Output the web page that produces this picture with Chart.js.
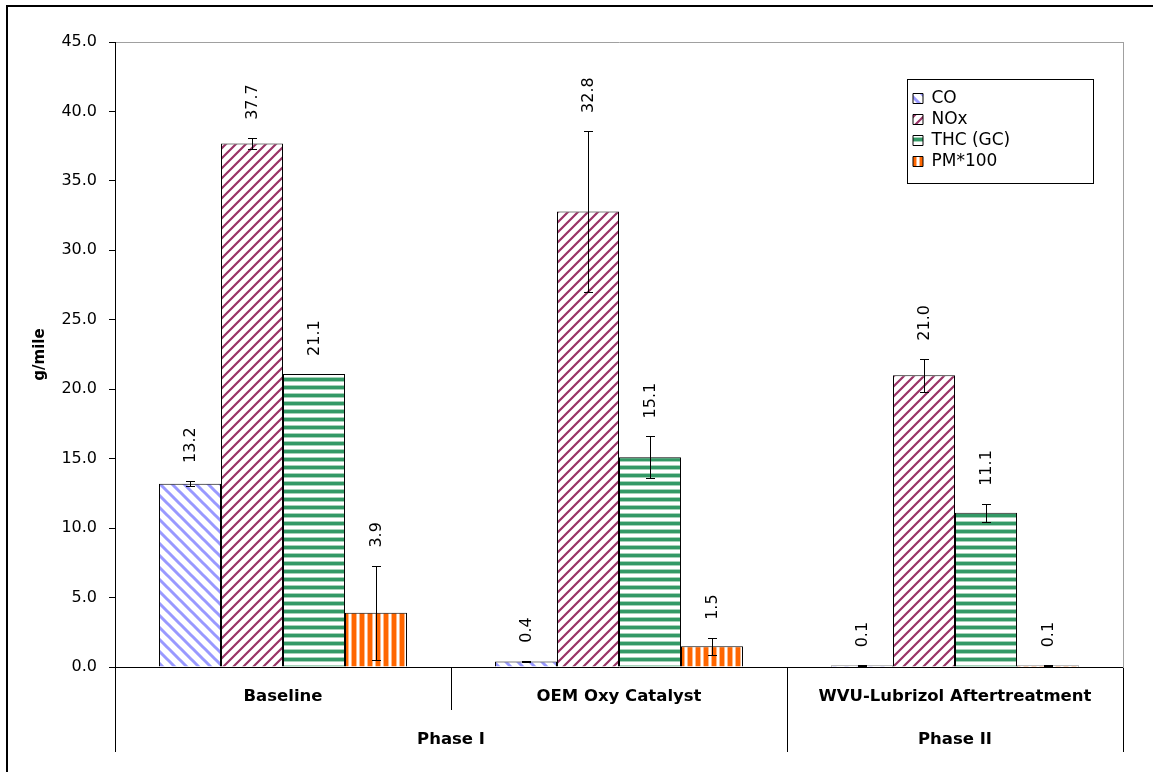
<!DOCTYPE html>
<html>
<head>
<meta charset="utf-8">
<script src="https://cdn.jsdelivr.net/npm/chart.js@4/dist/chart.umd.min.js"></script>
<style>
  html, body { margin: 0; padding: 0; background: #fff; }
  #wrap { position: relative; width: 1153px; height: 772px; overflow: hidden; }
  #frame { position: absolute; left: 6px; top: 5px; right: -10px; bottom: -10px; border-left: 2px solid #000; border-top: 2px solid #000; }
  #c { position: absolute; left: 0; top: 0; }
</style>
</head>
<body>
<div id="wrap">
  <div id="frame"></div>
  <canvas id="c" width="1153" height="772"></canvas>
</div>
<script>
// ---- data ----
const categories = ['Baseline', 'OEM Oxy Catalyst', 'WVU-Lubrizol Aftertreatment'];
const phaseLabels = ['Phase I', 'Phase II'];
const phaseSpans = [2, 1];               // number of categories in each phase
const seriesNames = ['CO', 'NOx', 'THC (GC)', 'PM*100'];
const coValues  = [13.2, 0.4, 0.1];
const noxValues = [37.7, 32.8, 21.0];
const thcValues = [21.1, 15.1, 11.1];
const pmValues  = [3.9, 1.5, 0.1];
const coErrors  = [0.2, 0.05, 0.02];
const noxErrors = [0.4, 5.8, 1.2];
const thcErrors = [0, 1.5, 0.65];
const pmErrors  = [3.4, 0.6, 0.02];
const yMin = 0, yMax = 45, yStep = 5;

const seriesValues = [coValues, noxValues, thcValues, pmValues];
const seriesErrors = [coErrors, noxErrors, thcErrors, pmErrors];

// ---- patterns ----
function diagPattern(color, period, width, dir) {
  const c = document.createElement('canvas');
  c.width = c.height = period;
  const g = c.getContext('2d');
  g.fillStyle = '#fff'; g.fillRect(0, 0, period, period);
  g.strokeStyle = color; g.lineWidth = width;
  g.beginPath();
  for (let k = -1; k <= 1; k++) {
    const x0 = k * period;
    if (dir === '/') { g.moveTo(x0 - 2, period + 2); g.lineTo(x0 + period + 2, -2); }
    else { g.moveTo(x0 - 2, -2); g.lineTo(x0 + period + 2, period + 2); }
  }
  g.stroke();
  return g.createPattern(c, 'repeat');
}
function stripePattern(colors, horizontal) {
  const n = colors.length;
  const c = document.createElement('canvas');
  c.width = horizontal ? 4 : n; c.height = horizontal ? n : 4;
  const g = c.getContext('2d');
  colors.forEach((col, i) => {
    g.fillStyle = col;
    if (horizontal) g.fillRect(0, i, 4, 1); else g.fillRect(i, 0, 1, 4);
  });
  return g.createPattern(c, 'repeat');
}
const fills = [
  diagPattern('#9999FF', 12, 3.0, '\\'),
  diagPattern('#993366', 10, 2.2, '/'),
  stripePattern(['#ffffff', '#a6d3b9', '#339966', '#339966', '#339966', '#a6d3b9', '#ffffff', '#ffffff'], true),
  stripePattern(['#FF6600', '#FF6600', '#FF6600', '#FF6600', '#ffb888', '#ffffff', '#ffffff', '#ffb888'], false)
];

// phase axis ticks: boundaries + centers
const phaseBounds = [0];
phaseSpans.forEach(s => phaseBounds.push(phaseBounds[phaseBounds.length - 1] + s));
const phaseCenters = phaseSpans.map((s, i) => phaseBounds[i] + s / 2);
const phaseTickValues = [...phaseBounds, ...phaseCenters].sort((a, b) => a - b);

const FONT = 'DejaVu Sans';

// ---- plugins ----
const errorLabels = {
  id: 'errorLabels',
  afterDatasetsDraw(chart) {
    const ctx = chart.ctx, y = chart.scales.y;
    ctx.save();
    chart.data.datasets.forEach((ds, di) => {
      const meta = chart.getDatasetMeta(di);
      meta.data.forEach((bar, i) => {
        const v = ds.data[i], e = seriesErrors[di][i];
        const yTop = y.getPixelForValue(v + e), yBot = y.getPixelForValue(Math.max(0, v - e));
        const x = Math.round(bar.x) + 0.5;
        if (e > 0) {
          ctx.strokeStyle = '#000'; ctx.lineWidth = 1;
          ctx.beginPath();
          ctx.moveTo(x, Math.round(yTop) + 0.5); ctx.lineTo(x, Math.round(yBot) + 0.5);
          ctx.moveTo(x - 4.5, Math.round(yTop) + 0.5); ctx.lineTo(x + 4.5, Math.round(yTop) + 0.5);
          ctx.moveTo(x - 4.5, Math.round(yBot) + 0.5); ctx.lineTo(x + 4.5, Math.round(yBot) + 0.5);
          ctx.stroke();
        }
        const top = Math.min(yTop, bar.y);
        ctx.save();
        ctx.translate(bar.x, top - 18);
        ctx.rotate(-Math.PI / 2);
        ctx.font = '16px "' + FONT + '"';
        ctx.fillStyle = '#000';
        ctx.textAlign = 'left';
        ctx.textBaseline = 'middle';
        ctx.fillText(v.toFixed(1), 0, 1);
        ctx.restore();
      });
    });
    ctx.restore();
  }
};

const LEGEND_BOX = { x: 907, y: 79, w: 186, h: 104 };
const legendPlacer = {
  id: 'legendPlacer',
  afterLayout(chart) {
    const lg = chart.legend; if (!lg) return;
    lg.left = LEGEND_BOX.x + 2; lg.top = LEGEND_BOX.y + 7;
    lg.right = lg.left + lg.width; lg.bottom = lg.top + lg.height;
  },
  afterDraw(chart) {
    const ctx = chart.ctx;
    ctx.save();
    ctx.strokeStyle = '#000'; ctx.lineWidth = 1;
    ctx.strokeRect(LEGEND_BOX.x + 0.5, LEGEND_BOX.y + 0.5, LEGEND_BOX.w, LEGEND_BOX.h);
    ctx.restore();
  }
};

new Chart(document.getElementById('c'), {
  type: 'bar',
  data: {
    labels: categories,
    datasets: seriesNames.map((name, i) => ({
      label: name,
      data: seriesValues[i],
      backgroundColor: fills[i],
      borderColor: '#000',
      borderWidth: 1,
      categoryPercentage: 0.738,
      barPercentage: 1.0
    }))
  },
  options: {
    responsive: false,
    animation: false,
    devicePixelRatio: 1,
    events: [],
    layout: { padding: { left: 27, top: 42, right: 30, bottom: 20 } },
    scales: {
      x: {
        type: 'category', position: 'bottom', weight: 0, offset: true,
        grid: { offset: true, drawOnChartArea: false, drawTicks: true, tickLength: 43, color: '#000', lineWidth: 1 },
        border: { display: true, color: '#000', width: 1 },
        ticks: { padding: -23, color: '#000', font: { family: FONT, size: 16.5, weight: 'bold' }, maxRotation: 0, autoSkip: false },
        afterFit: s => { s.height = 43; }
      },
      x2: {
        type: 'linear', position: 'bottom', weight: 1, offset: false,
        min: phaseBounds[0], max: phaseBounds[phaseBounds.length - 1],
        grid: {
          offset: false, drawOnChartArea: false, drawTicks: true, tickLength: 42, lineWidth: 1,
          color: c => (c.tick && phaseBounds.includes(c.tick.value)) ? '#000' : 'rgba(0,0,0,0)'
        },
        border: { display: false },
        ticks: {
          padding: -22, color: '#000', font: { family: FONT, size: 16.5, weight: 'bold' }, maxRotation: 0, autoSkip: false,
          callback: v => { const k = phaseCenters.indexOf(v); return k >= 0 ? phaseLabels[k] : ''; }
        },
        afterBuildTicks: s => { s.ticks = phaseTickValues.map(v => ({ value: v })); },
        afterFit: s => { s.height = 42; }
      },
      y: {
        type: 'linear', position: 'left', min: yMin, max: yMax,
        ticks: { stepSize: yStep, callback: v => Number(v).toFixed(1), padding: 12, color: '#000', font: { family: FONT, size: 16 } },
        grid: {
          drawOnChartArea: true, drawTicks: true, tickLength: 6, tickColor: '#000', lineWidth: 1,
          color: c => (c.tick && c.tick.value === yMax) ? '#a0a0a0' : 'rgba(0,0,0,0)'
        },
        border: { display: true, color: '#000', width: 1 },
        title: { display: true, text: 'g/mile', color: '#000', font: { family: FONT, size: 15, weight: 'bold' } },
        afterFit: s => { s.width = 88; }
      },
      y2: {
        type: 'linear', position: 'right', min: yMin, max: yMax,
        ticks: { display: false },
        grid: { drawOnChartArea: false, drawTicks: false },
        border: { display: true, color: '#a0a0a0', width: 1 },
        afterFit: s => { s.width = 0; }
      }
    },
    plugins: {
      tooltip: { enabled: false },
      legend: {
        position: 'chartArea', align: 'start',
        labels: { boxWidth: 10, boxHeight: 10, padding: 4, color: '#000', font: { family: FONT, size: 17 } }
      }
    }
  },
  plugins: [errorLabels, legendPlacer]
});
</script>
</body>
</html>
